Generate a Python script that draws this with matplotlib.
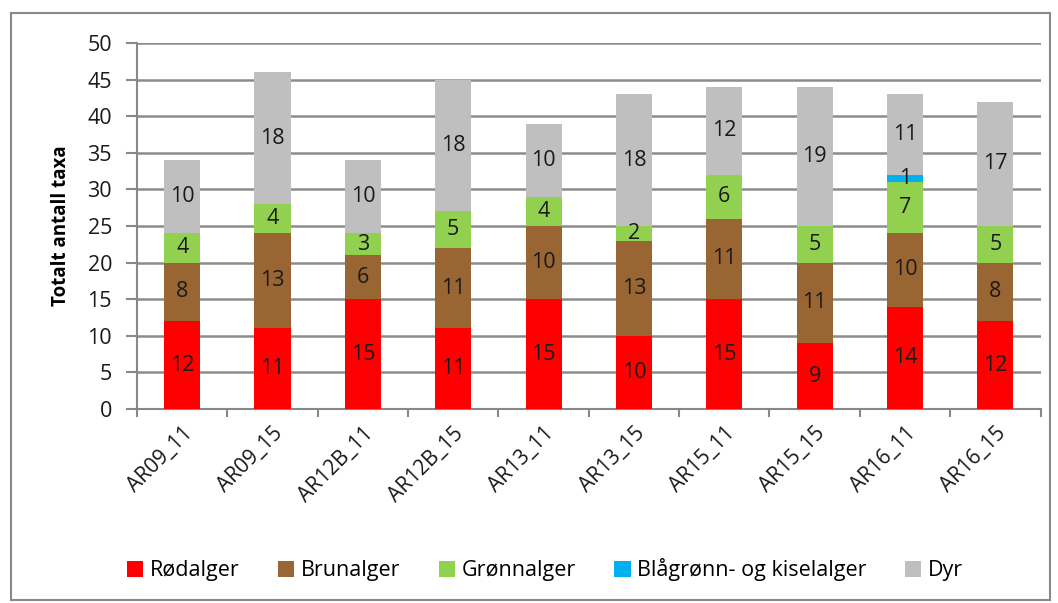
import matplotlib.pyplot as plt
import numpy as np
from matplotlib.patches import Rectangle

plt.rcParams['font.family'] = ['Open Sans', 'DejaVu Sans']

sites = ["AR09_11", "AR09_15", "AR12B_11", "AR12B_15", "AR13_11",
         "AR13_15", "AR15_11", "AR15_15", "AR16_11", "AR16_15"]
rodalger = [12, 11, 15, 11, 15, 10, 15, 9, 14, 12]
brunalger = [8, 13, 6, 11, 10, 13, 11, 11, 10, 8]
gronnalger = [4, 4, 3, 5, 4, 2, 6, 5, 7, 5]
blagronn = [0, 0, 0, 0, 0, 0, 0, 0, 1, 0]
dyr = [10, 18, 10, 18, 10, 18, 12, 19, 11, 17]

series = [
    ("Rødalger", rodalger, "#FF0000"),
    ("Brunalger", brunalger, "#996633"),
    ("Grønnalger", gronnalger, "#92D050"),
    ("Blågrønn- og kiselalger", blagronn, "#00B0F0"),
    ("Dyr", dyr, "#BFBFBF"),
]

fig = plt.figure(figsize=(10.58, 6.03), dpi=100)
ax = fig.add_axes([0.1295, 0.3217, 0.854, 0.607])

x = np.arange(len(sites))
bottom = np.zeros(len(sites))
for name, vals, color in series:
    vals = np.array(vals, dtype=float)
    ax.bar(x, vals, 0.4, bottom=bottom, color=color, label=name, zorder=3)
    for xi, b, v in zip(x, bottom, vals):
        if v > 0:
            ax.text(xi, b + v / 2, f"{int(v)}", ha="center", va="center",
                    fontsize=15.5, color="#1a1a1a", zorder=4)
    bottom += vals

ax.set_xlim(-0.5, len(sites) - 0.5)
ax.set_ylim(0, 50)
ax.set_yticks(range(0, 51, 5))
ax.tick_params(axis="y", labelsize=15.5, colors="#888888", labelcolor="#1a1a1a",
               length=8, width=1.5, pad=10)
ax.set_xticks(x)
ax.set_xticklabels(sites, rotation=45, ha="right", rotation_mode="anchor",
                   fontsize=15, color="#1a1a1a")
ax.tick_params(axis="x", length=0, pad=10)
ax.set_xticks(np.arange(-0.5, len(sites), 1), minor=True)
ax.tick_params(axis="x", which="minor", length=6, width=1.5, colors="#888888")

ax.grid(axis="y", color="#8C8C8C", linewidth=1.8, zorder=0)
for s in ["top", "right"]:
    ax.spines[s].set_visible(False)
for s in ["left", "bottom"]:
    ax.spines[s].set_color("#888888")
    ax.spines[s].set_linewidth(1.5)

ax.set_ylabel("Totalt antall taxa", fontsize=13.5, fontweight="bold", labelpad=12)

fig.legend(loc="center", bbox_to_anchor=(0.515, 0.055), ncol=5, frameon=False,
           fontsize=15.5, handlelength=0.75, handleheight=0.75, handletextpad=0.3,
           columnspacing=1.8)

fig.patches.append(Rectangle((11 / 1058, 1 - 600 / 603), 1039 / 1058, 587 / 603,
                             transform=fig.transFigure, fill=False,
                             edgecolor="#888888", linewidth=1.5))

fig.savefig("out.png", dpi=100)
